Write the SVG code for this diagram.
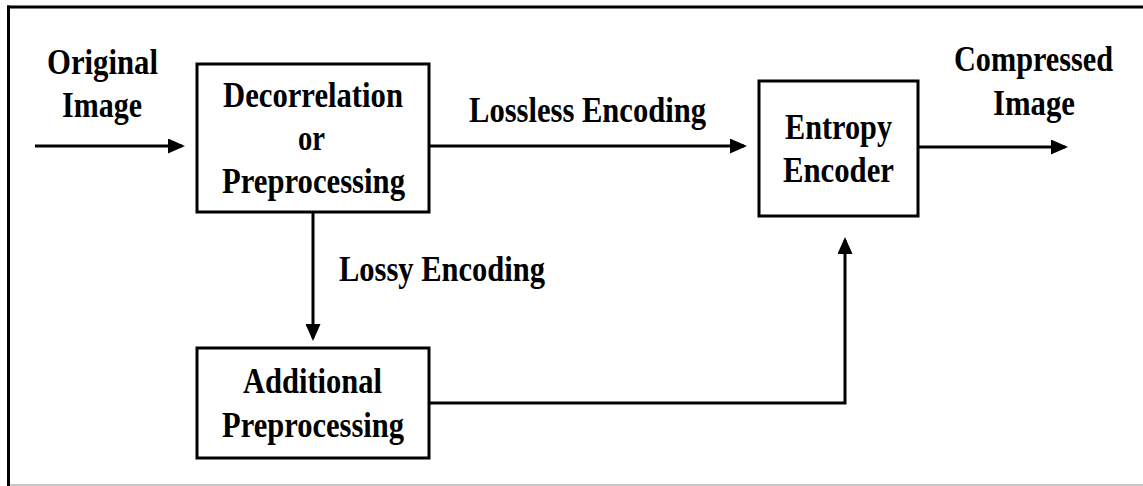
<svg xmlns="http://www.w3.org/2000/svg" width="1143" height="486" viewBox="0 0 1143 486">
<style>
.t{font-family:"Liberation Serif","Times New Roman",serif;font-weight:bold;font-size:36px;fill:#000}
.box{fill:#fff;stroke:#000;stroke-width:3}
.ln{fill:none;stroke:#000;stroke-width:3}
</style>
<defs>
<marker id="ah" markerUnits="userSpaceOnUse" markerWidth="17" markerHeight="15" refX="14" refY="7.5" orient="auto">
<path d="M0,0 L17,7.5 L0,15 z" fill="#000"/>
</marker>
</defs>
<rect width="1143" height="486" fill="#fff"/>
<g id="frame">
<line x1="8.5" y1="5.5" x2="8.5" y2="486" stroke="#000" stroke-width="3"/>
<line x1="7" y1="7" x2="1143" y2="7" stroke="#000" stroke-width="3"/>
<line x1="10" y1="485" x2="1143" y2="485" stroke="#c8c8c8" stroke-width="2"/>
</g>
<g id="connectors">
<line class="ln" x1="35" y1="146" x2="182" y2="146" marker-end="url(#ah)"/>
<line class="ln" x1="429" y1="146" x2="744" y2="146" marker-end="url(#ah)"/>
<line class="ln" x1="918" y1="147" x2="1065" y2="147" marker-end="url(#ah)"/>
<line class="ln" x1="313" y1="212" x2="313" y2="338" marker-end="url(#ah)"/>
<path class="ln" d="M429,403 H845 V240" marker-end="url(#ah)"/>
<text class="t" x="469" y="122" textLength="237" lengthAdjust="spacingAndGlyphs">Lossless Encoding</text>
<text class="t" x="339" y="281" textLength="206" lengthAdjust="spacingAndGlyphs">Lossy Encoding</text>
</g>
<g id="input">
<text class="t" x="47" y="74" textLength="111" lengthAdjust="spacingAndGlyphs">Original</text>
<text class="t" x="62" y="117" textLength="80" lengthAdjust="spacingAndGlyphs">Image</text>
</g>
<g id="decorrelation">
<rect class="box" x="197" y="64" width="232" height="148"/>
<text class="t" x="223" y="107" textLength="180" lengthAdjust="spacingAndGlyphs">Decorrelation</text>
<text class="t" x="298" y="150" textLength="27" lengthAdjust="spacingAndGlyphs">or</text>
<text class="t" x="222" y="193" textLength="183" lengthAdjust="spacingAndGlyphs">Preprocessing</text>
</g>
<g id="entropy">
<rect class="box" x="759" y="81" width="159" height="135"/>
<text class="t" x="785" y="139" textLength="107" lengthAdjust="spacingAndGlyphs">Entropy</text>
<text class="t" x="783" y="182" textLength="111" lengthAdjust="spacingAndGlyphs">Encoder</text>
</g>
<g id="output">
<text class="t" x="954" y="71" textLength="159" lengthAdjust="spacingAndGlyphs">Compressed</text>
<text class="t" x="993" y="115" textLength="82" lengthAdjust="spacingAndGlyphs">Image</text>
</g>
<g id="additional">
<rect class="box" x="197" y="348" width="232" height="110"/>
<text class="t" x="243" y="393" textLength="139" lengthAdjust="spacingAndGlyphs">Additional</text>
<text class="t" x="222" y="437" textLength="182" lengthAdjust="spacingAndGlyphs">Preprocessing</text>
</g>
</svg>
